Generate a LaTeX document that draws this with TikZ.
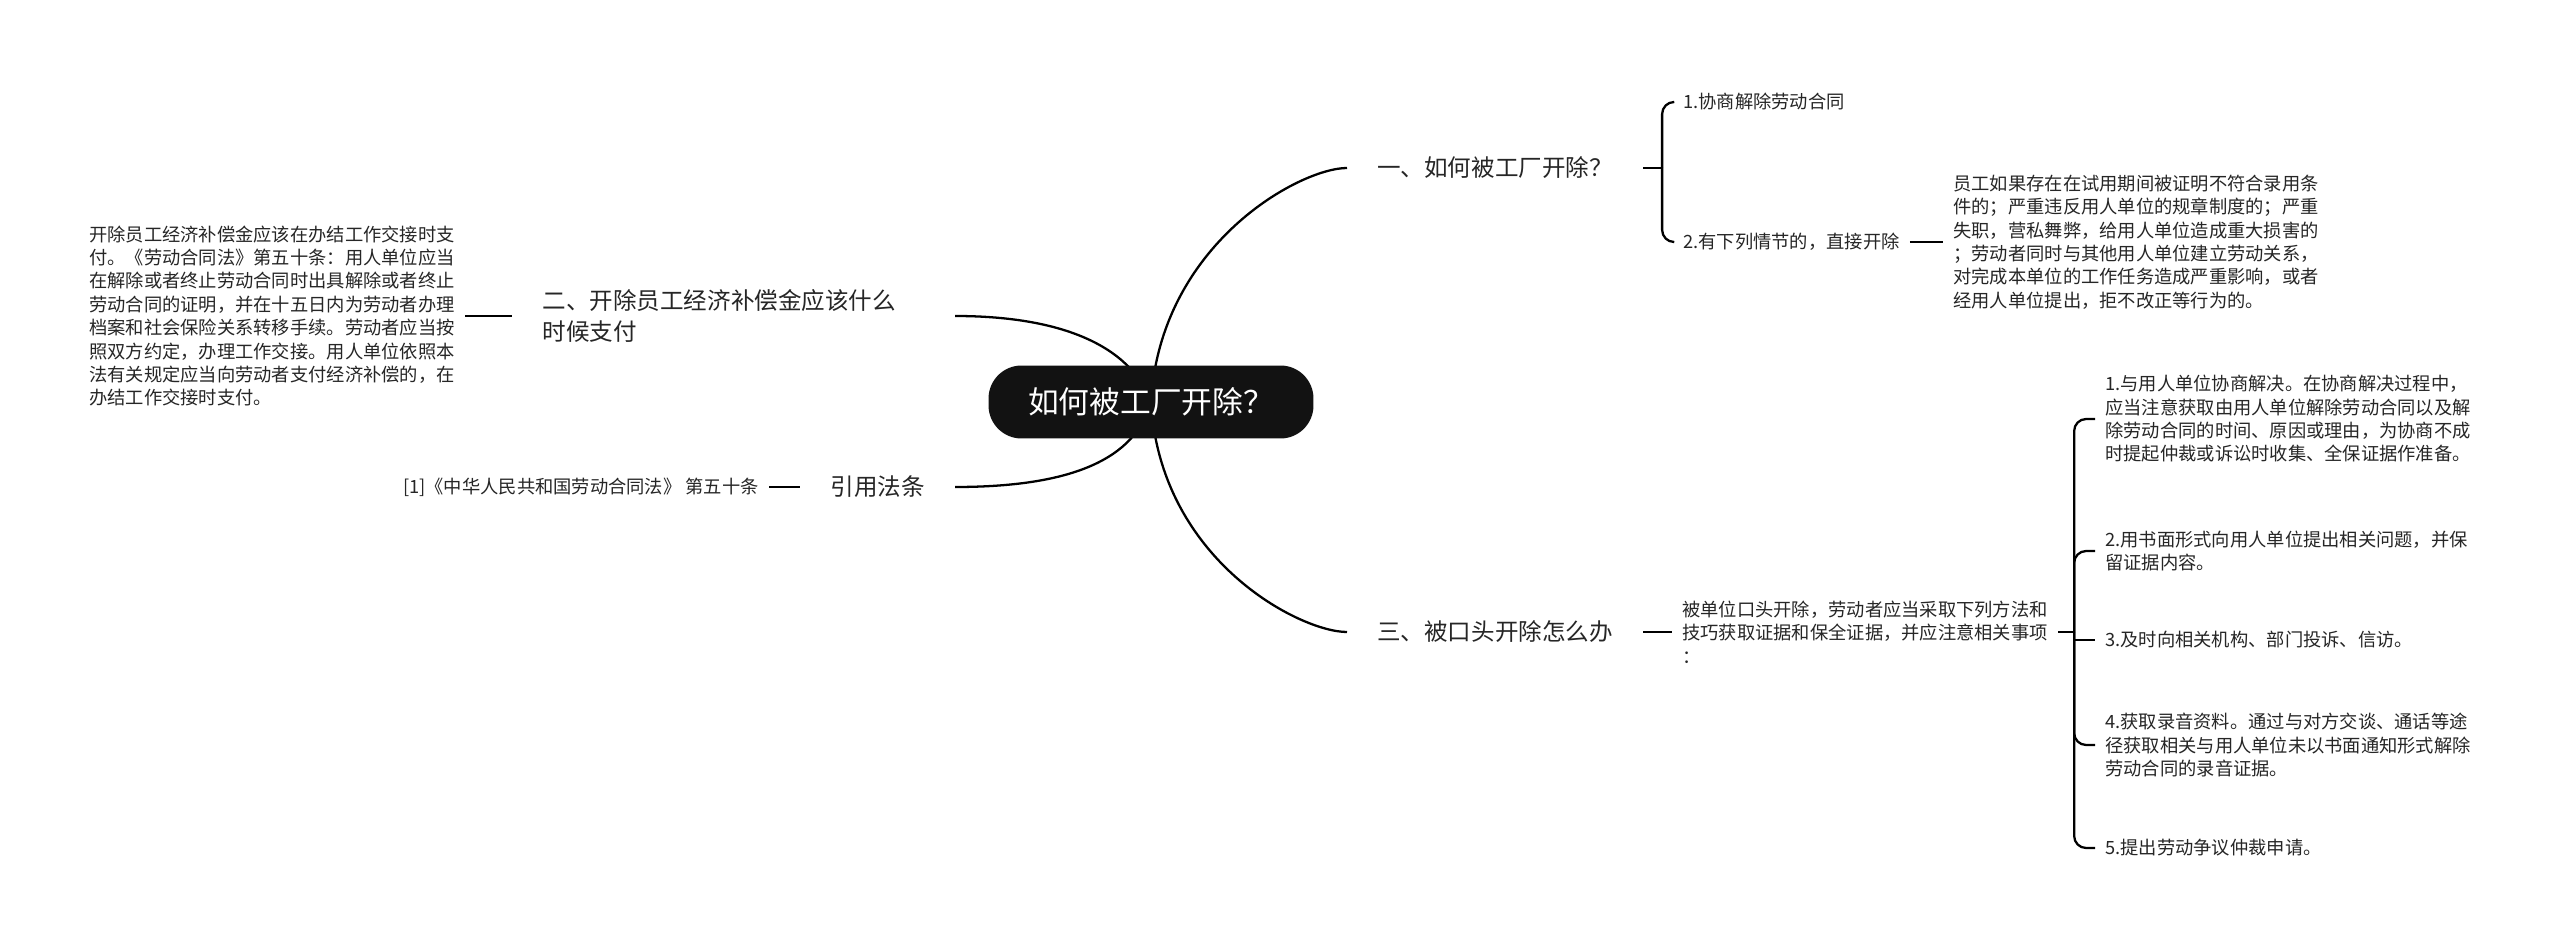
\documentclass[tikz,border=0pt]{standalone}
\usepackage{fontspec}
\setmainfont{Noto Sans CJK SC}
\usetikzlibrary{positioning, backgrounds}

\begin{document}
\begin{tikzpicture}[x=0.02cm, y=-0.02cm,
  root/.style={fill=black!93, text=white, rounded corners=0.66cm,
               minimum width=6.5cm, minimum height=1.46cm,
               font=\fontsize{17.5pt}{21pt}\selectfont},
  topic/.style={inner xsep=0.6cm, inner ysep=2pt, align=left, text=black!85,
                font=\fontsize{13.4pt}{17.6pt}\selectfont},
  leaf/.style={inner xsep=0.2cm, inner ysep=2pt, align=left, text=black!85,
               font=\fontsize{10.4pt}{13.3pt}\selectfont},
  branch/.style={line width=1.3pt},
  brace/.style={line width=1.3pt, rounded corners=0.24cm}
]
\useasboundingbox (0,0) rectangle (2560,949);
% ----- root -----
\node[root] (root) at (1151,402) {如何被工厂开除？};
% ----- right: 一 -----
\node[topic, anchor=west] (t1) at (1347,168) {一、如何被工厂开除？};
\node[leaf, anchor=west] (s11) at (1673,102) {1.协商解除劳动合同};
\node[leaf, anchor=west] (s12) at (1673,242) {2.有下列情节的，直接开除};
\node[leaf, anchor=west] (n12) at (1943,242)
     {员工如果存在在试用期间被证明不符合录用条\\件的；严重违反用人单位的规章制度的；严重\\失职，营私舞弊，给用人单位造成重大损害的\\；劳动者同时与其他用人单位建立劳动关系，\\对完成本单位的工作任务造成严重影响，或者\\经用人单位提出，拒不改正等行为的。};
\draw[branch] (t1.east) -- ++(19,0) coordinate (j1);
\draw[brace] (j1) |- (s11.west);
\draw[brace] (j1) |- (s12.west);
\draw[branch] (s12) -- (n12);
% ----- left: 二 -----
\node[topic, anchor=east, text width=7.64cm] (t2) at (955,316)
     {二、开除员工经济补偿金应该什么\\时候支付};
\node[leaf, anchor=east] (n2) at (465,316)
     {开除员工经济补偿金应该在办结工作交接时支\\付。《劳动合同法》第五十条：用人单位应当\\在解除或者终止劳动合同时出具解除或者终止\\劳动合同的证明，并在十五日内为劳动者办理\\档案和社会保险关系转移手续。劳动者应当按\\照双方约定，办理工作交接。用人单位依照本\\法有关规定应当向劳动者支付经济补偿的，在\\办结工作交接时支付。};
\draw[branch] (n2) -- (t2);
% ----- left: 引用法条 -----
\node[topic, anchor=east] (t3) at (955,487) {引用法条};
\node[leaf, anchor=east] (n3) at (769,487) {[1]《中华人民共和国劳动合同法》 第五十条};
\draw[branch] (n3) -- (t3);
% ----- right: 三 -----
\node[topic, anchor=west] (t4) at (1347,632) {三、被口头开除怎么办};
\node[leaf, anchor=west] (n4) at (1672,632)
     {被单位口头开除，劳动者应当采取下列方法和\\技巧获取证据和保全证据，并应注意相关事项\\：};
\draw[branch] (t4) -- (n4);
\node[leaf, anchor=west] (s41) at (2095,419)
     {1.与用人单位协商解决。在协商解决过程中，\\应当注意获取由用人单位解除劳动合同以及解\\除劳动合同的时间、原因或理由，为协商不成\\时提起仲裁或诉讼时收集、全保证据作准备。};
\node[leaf, anchor=west] (s42) at (2095,551)
     {2.用书面形式向用人单位提出相关问题，并保\\留证据内容。};
\node[leaf, anchor=west] (s43) at (2095,640) {3.及时向相关机构、部门投诉、信访。};
\node[leaf, anchor=west] (s44) at (2095,745)
     {4.获取录音资料。通过与对方交谈、通话等途\\径获取相关与用人单位未以书面通知形式解除\\劳动合同的录音证据。};
\node[leaf, anchor=west] (s45) at (2095,848) {5.提出劳动争议仲裁申请。};
\draw[branch] (n4.east) -- ++(16,0) coordinate (j4);
\foreach \c in {s41,s42,s44,s45}
  \draw[brace] (j4) |- (\c.west);
\draw[branch] (j4) |- (s43.west);
% ----- curves from the root -----
\begin{pgfonlayer}{background}
  \fill[white] (0,0) rectangle (2560,949);
  \draw[branch] (root.center) .. controls (1160,244) and (1300,168) .. (t1.west);
  \draw[branch] (root.center) .. controls (1160,560) and (1300,632) .. (t4.west);
  \draw[branch] (root.center) .. controls (1130,345) and (1060,316) .. (t2.east);
  \draw[branch] (root.center) .. controls (1135,460) and (1070,487) .. (t3.east);
\end{pgfonlayer}
\end{tikzpicture}
\end{document}
